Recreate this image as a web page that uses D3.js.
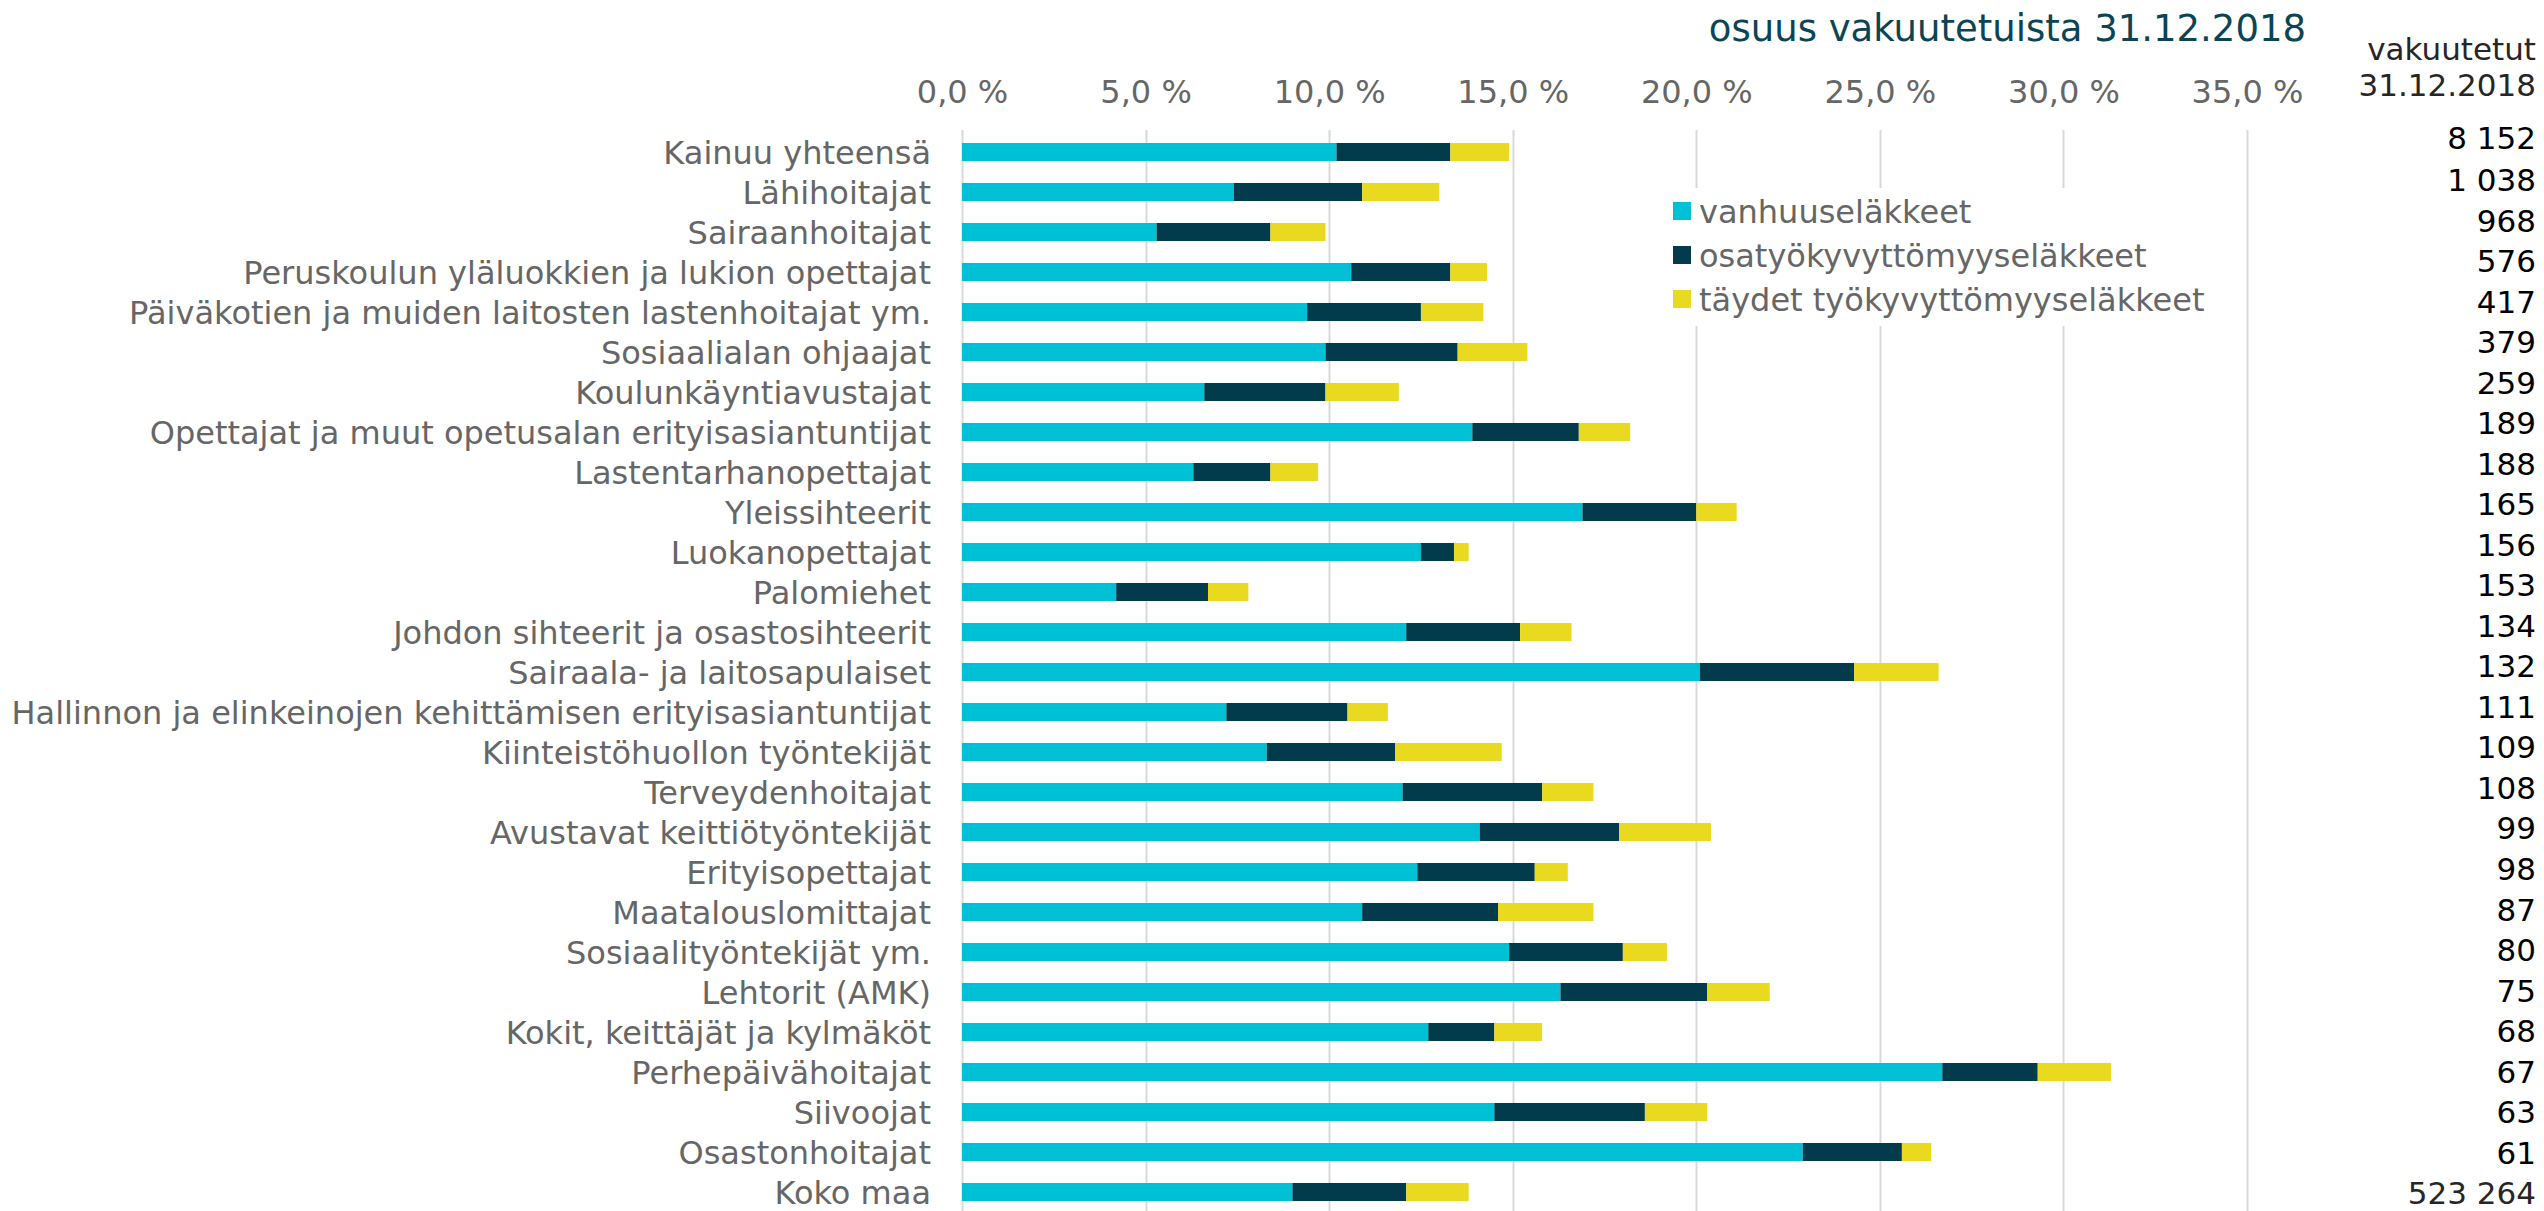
<!DOCTYPE html>
<html>
<head>
<meta charset="utf-8">
<script src="https://cdn.jsdelivr.net/npm/d3@7/dist/d3.min.js"></script>
<style>
	body { margin: 0; background: #ffffff; }
	svg text { font-family: "DejaVu Sans", Verdana, sans-serif; }
</style>
</head>
<body>
<script>

// ammattiryhmät, ylhäältä alas
var categories = [
	"Kainuu yhteensä",
	"Lähihoitajat",
	"Sairaanhoitajat",
	"Peruskoulun yläluokkien ja lukion opettajat",
	"Päiväkotien ja muiden laitosten lastenhoitajat ym.",
	"Sosiaalialan ohjaajat",
	"Koulunkäyntiavustajat",
	"Opettajat ja muut opetusalan erityisasiantuntijat",
	"Lastentarhanopettajat",
	"Yleissihteerit",
	"Luokanopettajat",
	"Palomiehet",
	"Johdon sihteerit ja osastosihteerit",
	"Sairaala- ja laitosapulaiset",
	"Hallinnon ja elinkeinojen kehittämisen erityisasiantuntijat",
	"Kiinteistöhuollon työntekijät",
	"Terveydenhoitajat",
	"Avustavat keittiötyöntekijät",
	"Erityisopettajat",
	"Maatalouslomittajat",
	"Sosiaalityöntekijät ym.",
	"Lehtorit (AMK)",
	"Kokit, keittäjät ja kylmäköt",
	"Perhepäivähoitajat",
	"Siivoojat",
	"Osastonhoitajat",
	"Koko maa"
];

// osuus vakuutetuista, %
var vanhuus = [10.2, 7.4, 5.3, 10.6, 9.4, 9.9, 6.6, 13.9, 6.3, 16.9, 12.5, 4.2, 12.1, 20.1,
	7.2, 8.3, 12.0, 14.1, 12.4, 10.9, 14.9, 16.3, 12.7, 26.7, 14.5, 22.9, 9.0];
var osatyo = [3.1, 3.5, 3.1, 2.7, 3.1, 3.6, 3.3, 2.9, 2.1, 3.1, 0.9, 2.5, 3.1, 4.2,
	3.3, 3.5, 3.8, 3.8, 3.2, 3.7, 3.1, 4.0, 1.8, 2.6, 4.1, 2.7, 3.1];
var taydet = [1.6, 2.1, 1.5, 1.0, 1.7, 1.9, 2.0, 1.4, 1.3, 1.1, 0.4, 1.1, 1.4, 2.3,
	1.1, 2.9, 1.4, 2.5, 0.9, 2.6, 1.2, 1.7, 1.3, 2.0, 1.7, 0.8, 1.7];

// vakuutetut 31.12.2018
var vakuutetut = [8152, 1038, 968, 576, 417, 379, 259, 189, 188, 165, 156, 153, 134, 132,
	111, 109, 108, 99, 98, 87, 80, 75, 68, 67, 63, 61, 523264];

var seriesNames = ["vanhuuseläkkeet", "osatyökyvyttömyyseläkkeet", "täydet työkyvyttömyyseläkkeet"];
var seriesKeys = ["vanhuus", "osatyo", "taydet"];
var seriesColors = ["#00c0d5", "#023b4b", "#e9d921"];

var xTicks = [0, 5, 10, 15, 20, 25, 30, 35];

var width = 2544, height = 1211;

var fi = d3.formatLocale({
	decimal: ",",
	thousands: " ",
	grouping: [3],
	currency: ["", " €"],
	percent: " %"
});
var pctFmt = fi.format(".1%");
var numFmt = fi.format(",d");

var svg = d3.select("body").append("svg")
	.attr("width", width)
	.attr("height", height);

// table rows for stack
var rows = categories.map(function(c, i) {
	return { cat: c, vanhuus: vanhuus[i], osatyo: osatyo[i], taydet: taydet[i] };
});
var stacked = d3.stack().keys(seriesKeys)(rows);

var x = d3.scaleLinear()
	.domain([0, 35])
	.range([962, 2247]);

var y = d3.scaleBand()
	.domain(categories)
	.range([132, 1212])
	.paddingInner(0.55)
	.paddingOuter(0.275);

// gridlines
svg.append("g")
	.selectAll("line")
	.data(xTicks)
	.enter().append("line")
	.attr("x1", function(d) { return Math.round(x(d)) + 0.5; })
	.attr("x2", function(d) { return Math.round(x(d)) + 0.5; })
	.attr("y1", 130)
	.attr("y2", height)
	.style("stroke", "#d9d9d9")
	.style("stroke-width", 2);

// top axis labels
var xAxis = d3.axisTop(x)
	.tickValues(xTicks)
	.tickSize(0)
	.tickFormat(function(d) { return pctFmt(d / 100); });
var xg = svg.append("g")
	.attr("transform", "translate(0,106)")
	.call(xAxis);
xg.select(".domain").remove();
xg.selectAll("text")
	.attr("dy", 0)
	.style("font-size", "32px")
	.style("font-family", "'DejaVu Sans', Verdana, sans-serif")
	.style("fill", "#666666");

// bars
var layers = svg.append("g")
	.selectAll("g")
	.data(stacked)
	.enter().append("g")
	.style("fill", function(d, i) { return seriesColors[i]; });
layers.selectAll("rect")
	.data(function(d) { return d; })
	.enter().append("rect")
	.attr("x", function(d) { return x(d[0]); })
	.attr("width", function(d) { return x(d[1]) - x(d[0]); })
	.attr("y", function(d) { return y(d.data.cat); })
	.attr("height", y.bandwidth());

// category labels
var yAxis = d3.axisLeft(y).tickSize(0).tickPadding(0);
var yg = svg.append("g")
	.attr("transform", "translate(931,0)")
	.call(yAxis);
yg.select(".domain").remove();
yg.selectAll("text")
	.attr("dy", "0.36em")
	.style("font-size", "32px")
	.style("font-family", "'DejaVu Sans', Verdana, sans-serif")
	.style("fill", "#666666");

// legend, white box over the gridlines
var legend = svg.append("g");
legend.append("rect")
	.attr("x", 1660)
	.attr("y", 188)
	.attr("width", 560)
	.attr("height", 138)
	.style("fill", "#ffffff");
var legItems = legend.selectAll("g.item")
	.data(seriesNames)
	.enter().append("g")
	.attr("class", "item")
	.attr("transform", function(d, i) { return "translate(1673," + (211 + i * 44) + ")"; });
legItems.append("rect")
	.attr("x", 0)
	.attr("y", -9)
	.attr("width", 18)
	.attr("height", 18)
	.style("fill", function(d, i) { return seriesColors[i]; });
legItems.append("text")
	.attr("x", 26)
	.attr("dy", "0.36em")
	.style("font-size", "32px")
	.style("fill", "#666666")
	.text(function(d) { return d; });

// title above the axis
svg.append("text")
	.attr("x", 2306)
	.attr("y", 28)
	.attr("dy", "0.36em")
	.attr("text-anchor", "end")
	.style("font-size", "37px")
	.style("fill", "#0b4453")
	.text("osuus vakuutetuista 31.12.2018");

// vakuutetut column
var colX = 2536;
var header = svg.append("text")
	.attr("text-anchor", "end")
	.style("font-size", "31px")
	.style("fill", "#262626");
header.append("tspan").attr("x", colX).attr("y", 49).attr("dy", "0.36em").text("vakuutetut");
header.append("tspan").attr("x", colX).attr("y", 85).attr("dy", "0.36em").text("31.12.2018");

// the number column does not follow bar rows exactly
var ny = d3.scaleLinear().domain([1, vakuutetut.length - 1]).range([180, 1193]);
svg.append("g")
	.selectAll("text")
	.data(vakuutetut)
	.enter().append("text")
	.attr("x", colX)
	.attr("y", function(d, i) { return i == 0 ? 138 : ny(i); })
	.attr("dy", "0.36em")
	.attr("text-anchor", "end")
	.style("font-size", "31px")
	.style("fill", function(d, i) { return i == vakuutetut.length - 1 ? "#262626" : "#000000"; })
	.text(function(d) { return numFmt(d); });

</script>
</body>
</html>
